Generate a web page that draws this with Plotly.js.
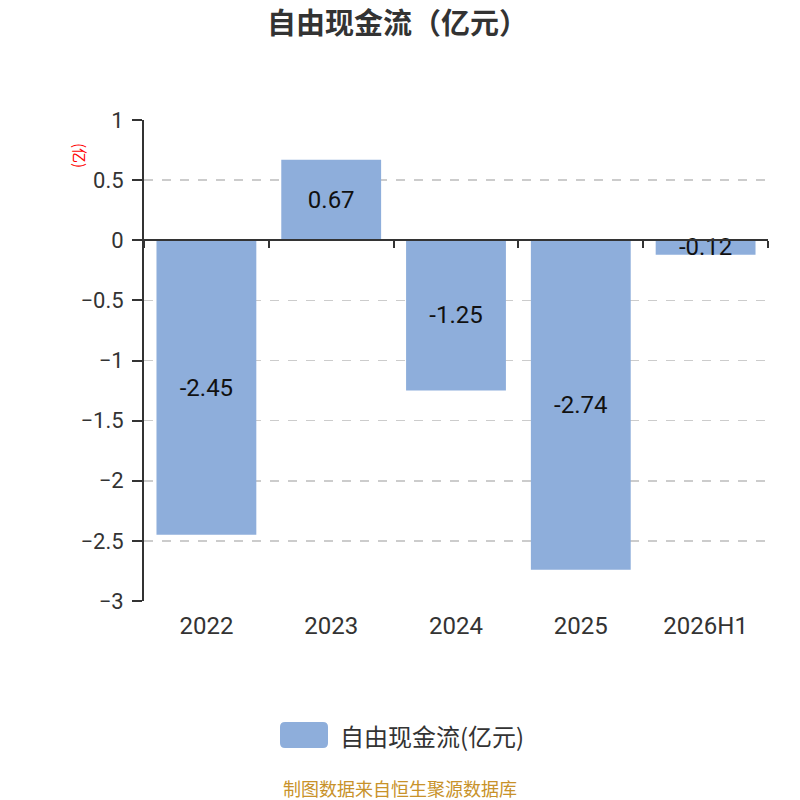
<!DOCTYPE html>
<html>
<head>
<meta charset="utf-8">
<script src="https://cdn.plot.ly/plotly-3.0.1.min.js"></script>
<style>html,body{margin:0;padding:0;background:#fff;}#chart{width:800px;height:800px;}</style>
</head>
<body>
<div id="chart"></div>
<script>
const categories = ["2022", "2023", "2024", "2025", "2026H1"];
const values = [-2.45, 0.67, -1.25, -2.74, -0.12];
const valueLabels = ["-2.45", "0.67", "-1.25", "-2.74", "-0.12"];
const yTickVals = [1, 0.5, 0, -0.5, -1, -1.5, -2, -2.5, -3];
const yTickText = ["1", "0.5", "0", "\u22120.5", "\u22121", "\u22121.5", "\u22122", "\u22122.5", "\u22123"];
const seriesName = "自由现金流(亿元)";
const chartTitle = "自由现金流（亿元）";
const unitLabel = "(亿)";
const sourceText = "制图数据来自恒生聚源数据库";

const CJK = "Noto Sans CJK SC, Noto Sans, sans-serif";
const NUM = "Roboto, Noto Sans CJK SC, sans-serif";
const BAR_COLOR = "#8EAEDB";

const traces = [
  {
    type: "bar",
    x: categories,
    y: values,
    name: seriesName,
    marker: { color: BAR_COLOR },
    width: 0.8,
    text: valueLabels,
    textposition: "inside",
    insidetextanchor: "middle",
    constraintext: "none",
    textangle: 0,
    textfont: { family: NUM, size: 24, color: "#111" },
    hoverinfo: "none",
    showlegend: false,
    cliponaxis: false
  },
  {
    type: "bar",
    x: categories,
    y: values,
    xaxis: "x2",
    showlegend: false,
    opacity: 0,
    hoverinfo: "none"
  }
];

const layout = {
  width: 800,
  height: 800,
  margin: { l: 144, r: 32, t: 120, b: 199 },
  paper_bgcolor: "#fff",
  plot_bgcolor: "#fff",
  font: { family: CJK, color: "#333" },
  title: {
    text: "<b>" + chartTitle + "</b>",
    font: { family: CJK, size: 29, color: "#333" },
    x: 0.497, xanchor: "center",
    y: 0.970, yanchor: "middle"
  },
  barmode: "overlay",
  showlegend: false,
  xaxis: {
    type: "category",
    categoryarray: categories,
    range: [-0.5, 4.5],
    showline: false,
    showgrid: false,
    zeroline: false,
    ticks: "",
    tickfont: { family: NUM, size: 24, color: "#333" },
    ticklabelstandoff: 8,
    fixedrange: true
  },
  xaxis2: {
    type: "category",
    categoryarray: categories,
    range: [-0.5, 4.5],
    overlaying: "x",
    anchor: "free",
    position: 0.75,
    side: "bottom",
    showline: true,
    linecolor: "#333",
    linewidth: 2,
    ticks: "outside",
    tickson: "boundaries",
    ticklen: 7,
    tickwidth: 2,
    tickcolor: "#333",
    showticklabels: false,
    showgrid: false,
    zeroline: false
  },
  yaxis: {
    range: [-3, 1],
    tickvals: yTickVals,
    ticktext: yTickText,
    showline: true,
    linecolor: "#333",
    linewidth: 2,
    ticks: "outside",
    ticklen: 10,
    tickwidth: 2,
    tickcolor: "#333",
    tickfont: { family: NUM, size: 22, color: "#333" },
    ticklabelstandoff: 4,
    showgrid: true,
    gridcolor: "#cccccc",
    griddash: "dash",
    gridwidth: 1.5,
    zeroline: false,
    fixedrange: true
  },
  shapes: [
    {
      type: "path",
      xref: "paper", yref: "paper",
      path: (function () {
        const px = v => (v - 144) / 624;
        const py = v => (601 - v) / 481;
        const x0 = 280, x1 = 328, y0 = 722, y1 = 748, r = 5;
        return "M " + px(x0 + r) + " " + py(y0) +
          " L " + px(x1 - r) + " " + py(y0) +
          " Q " + px(x1) + " " + py(y0) + " " + px(x1) + " " + py(y0 + r) +
          " L " + px(x1) + " " + py(y1 - r) +
          " Q " + px(x1) + " " + py(y1) + " " + px(x1 - r) + " " + py(y1) +
          " L " + px(x0 + r) + " " + py(y1) +
          " Q " + px(x0) + " " + py(y1) + " " + px(x0) + " " + py(y1 - r) +
          " L " + px(x0) + " " + py(y0 + r) +
          " Q " + px(x0) + " " + py(y0) + " " + px(x0 + r) + " " + py(y0) + " Z";
      })(),
      fillcolor: BAR_COLOR,
      line: { width: 0 }
    }
  ],
  annotations: [
    {
      text: seriesName,
      xref: "paper", yref: "paper",
      x: (338 - 144) / 624, y: (601 - 735) / 481,
      xanchor: "left", yanchor: "middle",
      showarrow: false,
      font: { family: CJK, size: 24, color: "#333" }
    },
    {
      text: unitLabel,
      xref: "paper", yref: "paper",
      x: (80 - 144) / 624, y: (601 - 155) / 481,
      xanchor: "center", yanchor: "middle",
      textangle: 90,
      showarrow: false,
      font: { family: CJK, size: 15, color: "#ff0000" }
    },
    {
      text: sourceText,
      xref: "paper", yref: "paper",
      x: (400 - 144) / 624, y: (601 - 788) / 481,
      xanchor: "center", yanchor: "middle",
      showarrow: false,
      font: { family: CJK, size: 18, color: "#C8922A" }
    }
  ]
};

Plotly.newPlot("chart", traces, layout, { displayModeBar: false, staticPlot: true });
</script>
</body>
</html>
